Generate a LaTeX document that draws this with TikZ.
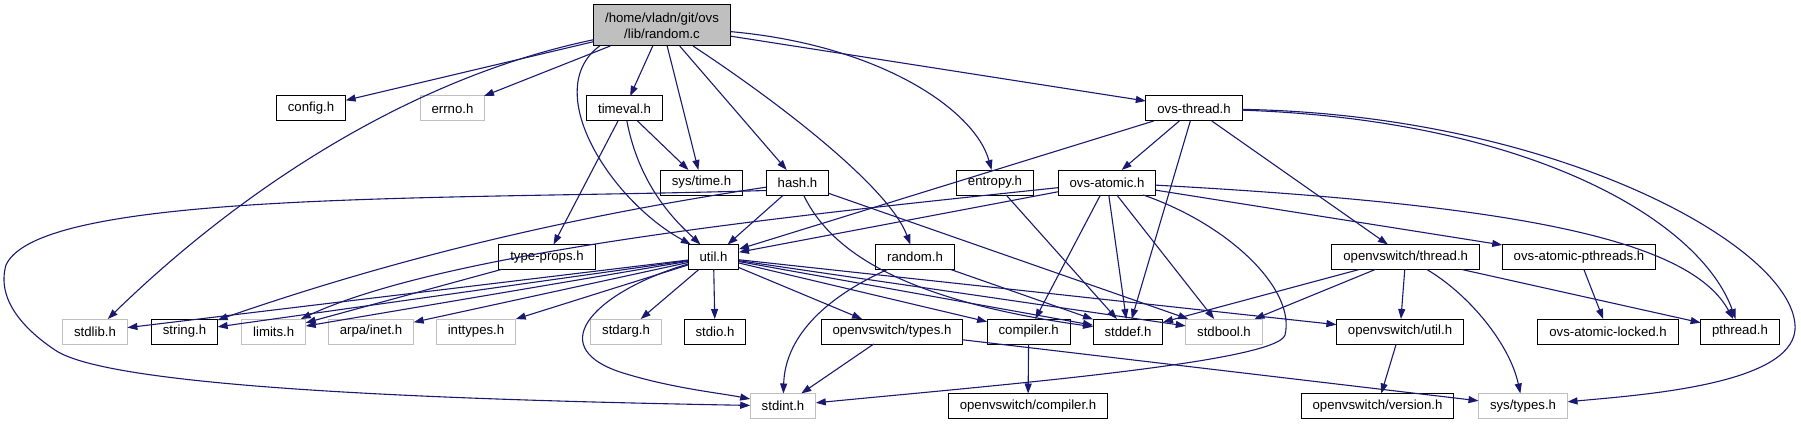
\documentclass[tikz,border=0pt]{standalone}
\usepackage{fontspec}
\setmainfont{Liberation Sans}
\usetikzlibrary{arrows.meta}
\definecolor{incBlue}{HTML}{191970}
\definecolor{incGrey}{HTML}{BFBFBF}
\tikzset{
  hdr/.style      = {draw=black, line width=1pt, fill=white, minimum height=25pt,
                     inner xsep=11.5pt, inner ysep=0pt, outer sep=0pt,
                     font=\fontsize{13.2}{16}\selectfont},
  syshdr/.style   = {hdr, draw=incGrey},
  rootfile/.style = {hdr, fill=incGrey, minimum width=136pt, minimum height=41pt,
                     align=center},
  dep/.style      = {-{Triangle[length=10pt,width=7pt]}, incBlue, line width=1.1pt},
}

\begin{document}
\begin{tikzpicture}[x=1pt, y=-1pt]
  \useasboundingbox (0,0) rectangle (1801,425);

  % nodes, row by row
  \node[rootfile] (randomc) at (662,25.5) {/home/vladn/git/ovs\\/lib/random.c};

  \node[hdr]    (configh)    at (311,108.5)  {config.h};
  \node[syshdr] (errnoh)     at (452.5,108.5) {errno.h};
  \node[hdr]    (timevalh)   at (624.5,108.5) {timeval.h};
  \node[hdr]    (ovsthreadh) at (1194,108.5) {ovs-thread.h};

  \node[hdr] (systimeh)   at (701.5,182.5) {sys/time.h};
  \node[hdr] (hashh)      at (797.5,182.5) {hash.h};
  \node[hdr] (entropyh)   at (995,182.5)   {entropy.h};
  \node[hdr] (ovsatomich) at (1107,182.5)  {ovs-atomic.h};

  \node[hdr] (typepropsh) at (547,257)    {type-props.h};
  \node[hdr] (utilh)      at (713.5,257)  {util.h};
  \node[hdr] (randomh)    at (915,257)    {random.h};
  \node[hdr] (ovswthread) at (1405.7,257) {openvswitch/thread.h};
  \node[hdr] (atomicpth)  at (1579,257)   {ovs-atomic-pthreads.h};

  \node[syshdr] (stdlibh)      at (95,331.5)     {stdlib.h};
  \node[hdr]    (stringh)      at (184.5,331.5)  {string.h};
  \node[syshdr] (limitsh)      at (273.7,331.5)  {limits.h};
  \node[syshdr] (ineth)        at (371,331.5)    {arpa/inet.h};
  \node[syshdr] (inttypesh)    at (476,331.5)    {inttypes.h};
  \node[syshdr] (stdargh)      at (626,331.5)    {stdarg.h};
  \node[hdr]    (stdioh)       at (715,331.5)    {stdio.h};
  \node[hdr]    (ovswtypes)    at (892,331.5)    {openvswitch/types.h};
  \node[hdr]    (compilerh)    at (1028.7,331.5) {compiler.h};
  \node[hdr]    (stddefh)      at (1128,331.5)   {stddef.h};
  \node[syshdr] (stdboolh)     at (1224,331.5)   {stdbool.h};
  \node[hdr]    (ovswutil)     at (1400,331.5)   {openvswitch/util.h};
  \node[hdr]    (atomiclocked) at (1608,331.5)   {ovs-atomic-locked.h};
  \node[hdr]    (pthreadh)     at (1740,331.5)   {pthread.h};

  \node[syshdr] (stdinth)      at (783,406)    {stdint.h};
  \node[hdr]    (ovswcompiler) at (1028,406)   {openvswitch/compiler.h};
  \node[hdr]    (ovswversion)  at (1377.5,406) {openvswitch/version.h};
  \node[syshdr] (systypesh)    at (1523,406)   {sys/types.h};

  % random.c
  \draw[dep] (randomc) -- (configh);
  \draw[dep] (randomc) -- (errnoh);
  \draw[dep] (randomc) -- (timevalh);
  \draw[dep] (randomc) -- (systimeh);
  \draw[dep] (randomc) -- (hashh);
  \draw[dep] (randomc) -- (ovsthreadh);
  \draw[dep] (randomc) .. controls (790,110) and (890,190) .. (randomh);
  \draw[dep] (randomc) .. controls (880,45) and (975,110) .. (entropyh);
  \draw[dep] ([xshift=6pt]randomc.south west) .. controls (540,90) and (610,200) .. (utilh);
  \draw[dep] (randomc) .. controls (400,80) and (230,200) .. (stdlibh);

  % timeval.h, hash.h, entropy.h
  \draw[dep] (timevalh) -- (systimeh);
  \draw[dep] (timevalh) -- (typepropsh);
  \draw[dep] (timevalh) .. controls (640,190) and (680,225) .. (utilh);
  \draw[dep] (hashh) -- (utilh);
  \draw[dep] (hashh) -- (stdboolh);
  \draw[dep] (hashh) .. controls (600,212) and (420,250) .. (stringh);
  \draw[dep] (hashh) .. controls (830,250) and (900,300) .. (stddefh);
  \draw[dep] ([yshift=-8pt]hashh.west) .. controls (450,200) and (40,190) .. (6,265)
             .. controls (-4,300) and (25,330) .. (55,350)
             .. controls (110,388) and (450,400) .. (stdinth);
  \draw[dep] (entropyh) -- (stddefh);

  % ovs-thread.h, ovs-atomic.h
  \draw[dep] (ovsthreadh) -- (ovsatomich);
  \draw[dep] (ovsthreadh) -- (ovswthread);
  \draw[dep] (ovsthreadh) -- (stddefh);
  \draw[dep] (ovsthreadh) -- (utilh);
  \draw[dep] (ovsthreadh) .. controls (1530,120) and (1700,220) .. (pthreadh);
  \draw[dep] (ovsthreadh) .. controls (1560,115) and (1800,250) .. (1795,330)
             .. controls (1790,385) and (1640,395) .. (systypesh);
  \draw[dep] (ovsatomich) -- (utilh);
  \draw[dep] (ovsatomich) -- (compilerh);
  \draw[dep] (ovsatomich) -- (stddefh);
  \draw[dep] (ovsatomich) -- (stdboolh);
  \draw[dep] (ovsatomich) -- (atomicpth);
  \draw[dep] (ovsatomich) .. controls (800,215) and (450,250) .. (limitsh);
  \draw[dep] (ovsatomich) .. controls (1520,205) and (1690,240) .. (pthreadh);
  \draw[dep] (ovsatomich) .. controls (1230,225) and (1296,290) .. (1285,335)
             .. controls (1277,362) and (1000,385) .. (stdinth);

  % second row
  \draw[dep] (typepropsh) -- (limitsh);
  \draw[dep] (utilh) -- (stdlibh);
  \draw[dep] (utilh) -- (stringh);
  \draw[dep] (utilh) -- (limitsh);
  \draw[dep] (utilh) -- (ineth);
  \draw[dep] (utilh) -- (inttypesh);
  \draw[dep] (utilh) -- (stdargh);
  \draw[dep] (utilh) -- (stdioh);
  \draw[dep] (utilh) -- (ovswtypes);
  \draw[dep] (utilh) -- (compilerh);
  \draw[dep] (utilh) -- (stddefh);
  \draw[dep] (utilh) -- (stdboolh);
  \draw[dep] (utilh) -- (ovswutil);
  \draw[dep] ([yshift=-7pt]utilh.west) .. controls (600,290) and (540,345) .. (620,372)
             .. controls (670,388) and (720,393) .. ([yshift=7pt]stdinth.west);
  \draw[dep] (randomh) -- (stddefh);
  \draw[dep] (randomh) .. controls (820,300) and (785,340) .. (stdinth);
  \draw[dep] (ovswthread) -- (stddefh);
  \draw[dep] (ovswthread) -- (stdboolh);
  \draw[dep] (ovswthread) -- (ovswutil);
  \draw[dep] (ovswthread) -- (pthreadh);
  \draw[dep] (ovswthread) .. controls (1470,295) and (1510,345) .. (systypesh);
  \draw[dep] (atomicpth) -- (atomiclocked);

  % third row
  \draw[dep] (ovswtypes) -- (stdinth);
  \draw[dep] (ovswtypes) -- (systypesh);
  \draw[dep] (compilerh) -- (ovswcompiler);
  \draw[dep] (ovswutil) -- (ovswversion);
\end{tikzpicture}
\end{document}
